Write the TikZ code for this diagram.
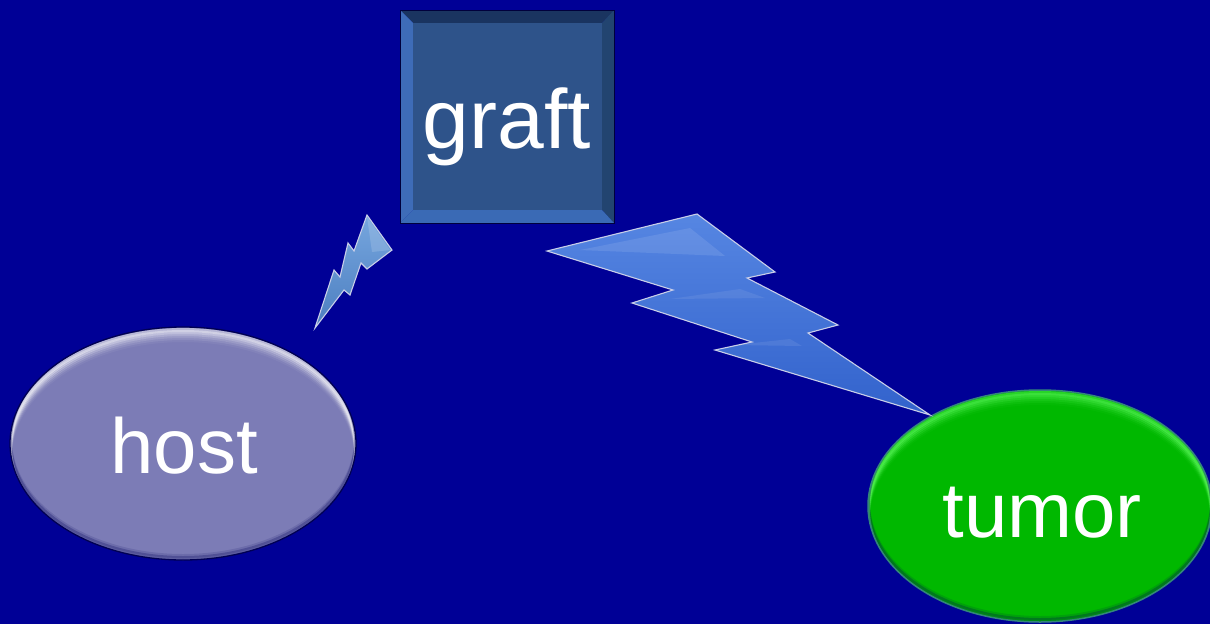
\documentclass[tikz,border=0pt]{standalone}
\usepackage{fontspec}
\setmainfont{Liberation Sans}
\usetikzlibrary{shapes.geometric}
\definecolor{bgblue}{RGB}{0,0,150}
\definecolor{hostfill}{RGB}{124,124,182}
\definecolor{tumorfill}{RGB}{0,184,0}
\definecolor{graftface}{RGB}{46,83,138}
\definecolor{bevtop}{RGB}{26,52,96}
\definecolor{bevleft}{RGB}{62,108,184}
\definecolor{bevbottom}{RGB}{58,106,181}
\definecolor{bevright}{RGB}{34,68,112}
\definecolor{boltlight}{RGB}{86,134,226}
\definecolor{boltdark}{RGB}{50,98,204}
\definecolor{smalllight}{RGB}{118,166,222}
\definecolor{smalldark}{RGB}{76,126,192}
\definecolor{boltedge}{RGB}{200,206,232}
\begin{document}
\begin{tikzpicture}[x=1pt,y=-1pt,
  blob/.style={ellipse, inner sep=0pt},
  label/.style={text=white, inner sep=0pt, anchor=base, font=\fontsize{78}{80}\selectfont},
  bolt/.style={draw=boltedge, line width=1.1pt, line join=miter}]
% background
\fill[bgblue] (0,0) rectangle (1210,624);
\useasboundingbox (0,0) rectangle (1210,624);

% ---------- graft: bevelled square ----------
\coordinate (g1) at (400,10);
\coordinate (g2) at (614,10);
\coordinate (g3) at (614,223);
\coordinate (g4) at (400,223);
\coordinate (i1) at (413,23);
\coordinate (i2) at (602,23);
\coordinate (i3) at (602,210);
\coordinate (i4) at (413,210);
\fill[bevtop] (g1) -- (g2) -- (i2) -- (i1) -- cycle;
\fill[bevright] (g2) -- (g3) -- (i3) -- (i2) -- cycle;
\fill[bevbottom] (g3) -- (g4) -- (i4) -- (i3) -- cycle;
\fill[bevleft] (g4) -- (g1) -- (i1) -- (i4) -- cycle;
\node[fill=graftface, inner sep=0pt, minimum width=189pt, minimum height=187pt] (graft) at (507.5,116.5) {};
\draw[black!60!bgblue, line width=0.8pt] (g1) rectangle (g3);
\node[label, font=\fontsize{84}{86}\selectfont] (graftlabel) at (507,148) {graft};

% ---------- host ----------
\node[blob, fill=hostfill, minimum width=346pt, minimum height=233pt] (host) at (183,443.5) {};
\begin{scope}
  \clip (host.center) ellipse [x radius=173, y radius=116.5];
  \foreach \s/\o in {3/.45,5/.35,7/.25,9/.16,11/.09,13/.05}
    \draw[white, opacity=\o, line width=4pt] ([yshift=-\s pt]host.center) ellipse [x radius=173, y radius=116.5];
  \foreach \s/\o in {2/.25,4/.12}
    \draw[bgblue!60!black, opacity=\o, line width=4pt] ([yshift=\s pt]host.center) ellipse [x radius=173, y radius=116.5];
\end{scope}
\draw[bgblue!55!black, line width=1.3pt] (host.center) ellipse [x radius=173, y radius=116.5];
\node[label] (hostlabel) at (184,473) {host};

% ---------- tumor ----------
\node[blob, fill=tumorfill, minimum width=344pt, minimum height=232pt] (tumor) at (1040,506) {};
\begin{scope}
  \clip (tumor.center) ellipse [x radius=172, y radius=116];
  \foreach \s/\o in {3/.4,5/.3,7/.22,9/.14,11/.08,13/.04}
    \draw[green!60!white, opacity=\o, line width=4pt] ([yshift=-\s pt]tumor.center) ellipse [x radius=172, y radius=116];
  \foreach \s/\o in {2/.25,4/.12}
    \draw[bgblue!60!black, opacity=\o, line width=4pt] ([yshift=\s pt]tumor.center) ellipse [x radius=172, y radius=116];
\end{scope}
\draw[bgblue!60!green!80!white, line width=1.5pt] (tumor.center) ellipse [x radius=172, y radius=116];
\node[label] (tumorlabel) at (1042,537) {tumor};

% ---------- small bolt between host and graft ----------
\draw[bolt, top color=smalllight, bottom color=smalldark]
  (315,328) -- (334,270) -- (340,277) -- (348,243) -- (354,251) -- (367,215)
  -- (392,250) -- (367,269) -- (361,263) -- (350,295) -- (344,290) -- cycle;
\fill[white, opacity=.15] (367,217) -- (390,250) -- (372,252) -- cycle;

% ---------- large bolt between graft and tumor ----------
\draw[bolt, top color=boltlight, bottom color=boltdark]
  (547,251) -- (697,214) -- (775,272) -- (747,278) -- (838,325) -- (808,333)
  -- (930,415) -- (715,350) -- (752,342) -- (632,303) -- (673,290) -- cycle;
\fill[white, opacity=.10] (580,250) -- (690,228) -- (725,256) -- cycle;
\fill[white, opacity=.08] (670,299) -- (740,289) -- (765,298) -- cycle;
\fill[white, opacity=.08] (735,345) -- (790,339) -- (802,346) -- cycle;
\end{tikzpicture}
\end{document}
